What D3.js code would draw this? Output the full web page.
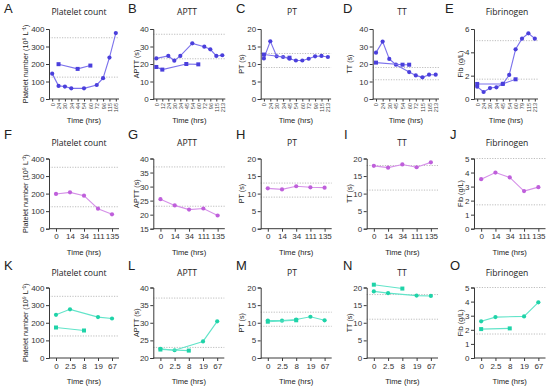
<!DOCTYPE html>
<html><head><meta charset="utf-8">
<script src="https://cdn.jsdelivr.net/npm/d3@7"></script>
<style>body{margin:0;background:#fff}svg{display:block}</style>
</head><body>
<svg id="c" width="550" height="388"></svg>
<script>
// ---------- DATA ----------
// Row 1 (patient 1) — category labels per panel
const timesA = ["0","24","30","34","44","54","60","72","96","115","165"];
const timesB = ["0","12","24","30","34","45","54","60","72","96","115","213"];
const timesC = ["0","24","30","34","45","54","60","72","96","115","213"];
const timesD = ["0","24","30","45","54","60","72","115","165","213"];
const timesE = ["0","24","30","34","45","54","60","79","115","213"];

const plateletA1 = [145,75,71,61,null,61,null,80,119,237,377];
const plateletA2 = [null,199,null,null,172,null,191,null,null,null,null];
const apttB1 = [23.2,null,24.6,21.9,24.6,null,31.8,null,29.9,28.4,24.6,25.0];
const apttB2 = [18.3,16.8,null,null,null,20.0,null,19.8,null,null,null,null];
const ptC1 = [11.6,16.5,12.2,12.0,11.5,11.0,11.0,11.5,12.2,12.3,12.0];
const ptC2 = [12.7,null,null,null,11.8,null,null,null,null,null,null];
const ttD1 = [26.5,32.8,22.9,19.6,null,15.4,13.5,12.4,13.9,13.9];
const ttD2 = [20.8,null,null,null,19.6,19.6,null,null,null,null];
const fibE1 = [1.06,0.6,0.94,1.0,1.29,2.06,4.26,5.17,5.63,5.17];
const fibE2 = [1.29,null,null,null,1.3,null,1.69,null,null,null];

// Row 2 (patient 2)
const times2 = ["0","14","34","111","135"];
const platelet2 = [198,207,188,114,82];
const aptt2 = [25.5,23.3,21.8,22.2,19.7];
const pt2 = [11.5,11.2,12.1,11.8,11.7];
const tt2 = [17.9,17.4,18.3,17.5,18.9];
const fib2 = [3.53,4.0,3.65,2.68,2.96];

// Row 3 (patient 3)
const times3 = ["0","2.5","8","19","67"];
const platelet3a = [245,276,null,232,224];
const platelet3b = [173,null,156,null,null];
const aptt3a = [22.6,22.2,null,24.7,30.4];
const aptt3b = [22.4,null,22.1,null,null];
const pt3a = [10.6,10.6,10.9,11.7,10.7];
const pt3b = [10.3,null,10.7,null,null];
const tt3a = [18.9,18.4,null,17.7,17.6];
const tt3b = [20.8,null,19.7,null,null];
const fib3a = [2.6,2.9,null,2.95,3.95];
const fib3b = [2.05,null,2.1,null,null];

// Reference ranges (dotted lines)
const refPlatelet = [125,350];
const refAPTT = [23,37];
const refPT = [9,13];
const refTT = [11,18];
const refFib = [1.7,5];

// Y tick values
const ticksPlatelet = [0,100,200,300,400];
const ticksAPTT1 = [0,10,20,30,40];
const ticksAPTT2 = [15,20,25,30,35,40];
const ticksAPTT3 = [20,25,30,35,40];
const ticksPT = [0,5,10,15,20];
const ticksTT1 = [0,10,20,30,40];
const ticksTT = [0,5,10,15,20];
const ticksFib1 = [0,2,4,6];
const ticksFib = [0,1,2,3,4,5];

const titles = ["Platelet count","APTT","PT","TT","Fibrinogen"];
const yTitles = ["Platelet number (10\u2079 L\u207B\u00B9)","APTT (s)","PT (s)","TT (s)","Fib (g/L)"];
const letters = ["A","B","C","D","E","F","G","H","I","J","K","L","M","N","O"];

// ---------- LAYOUT ----------
const rows = [
  {top:29, bot:99, letterY:13, titleY:15, rot:true, color:{line:"#7c72ec", mark:"#4a3fdc"}},
  {top:158.5, bot:228.7, letterY:139, titleY:146, rot:false, color:{line:"#d590e8", mark:"#bf5fdb"}},
  {top:287.5, bot:358, letterY:270, titleY:276, rot:false, color:{line:"#62e4c9", mark:"#1fd3a8"}}
];
const letterX = [[4,128,236,343,445],[4,128,236,344,450],[4,128,236,343,450]];
const titleX = [79,187,292,402,507];
const yTitleX = [25,136,241,349,460];

const panels = [
  // row 1
  {r:0,c:0,x0:49,w:70,cats:timesA,s:[plateletA1,plateletA2],dom:[0,400],ticks:ticksPlatelet,ref:refPlatelet},
  {r:0,c:1,x0:153.3,w:72,cats:timesB,s:[apttB1,apttB2],dom:[0,40],ticks:ticksAPTT1,ref:refAPTT},
  {r:0,c:2,x0:260.7,w:70.4,cats:timesC,s:[ptC1,ptC2],dom:[0,20],ticks:ticksPT,ref:refPT},
  {r:0,c:3,x0:372.7,w:66.3,cats:timesD,s:[ttD1,ttD2],dom:[0,40],ticks:ticksTT1,ref:refTT},
  {r:0,c:4,x0:474,w:64,cats:timesE,s:[fibE1,fibE2],dom:[0,6],ticks:ticksFib1,ref:refFib},
  // row 2
  {r:1,c:0,x0:49,w:70,cats:times2,s:[platelet2],dom:[0,400],ticks:ticksPlatelet,ref:refPlatelet},
  {r:1,c:1,x0:153.3,w:71.5,cats:times2,s:[aptt2],dom:[15,40],ticks:ticksAPTT2,ref:refAPTT},
  {r:1,c:2,x0:260.7,w:71,cats:times2,s:[pt2],dom:[0,20],ticks:ticksPT,ref:refPT},
  {r:1,c:3,x0:366.7,w:71.3,cats:times2,s:[tt2],dom:[0,20],ticks:ticksTT,ref:refTT},
  {r:1,c:4,x0:474,w:71.5,cats:times2,s:[fib2],dom:[0,5],ticks:ticksFib,ref:refFib},
  // row 3
  {r:2,c:0,x0:49,w:70,cats:times3,s:[platelet3a,platelet3b],dom:[0,400],ticks:ticksPlatelet,ref:refPlatelet},
  {r:2,c:1,x0:153.3,w:71,cats:times3,s:[aptt3a,aptt3b],dom:[20,40],ticks:ticksAPTT3,ref:refAPTT},
  {r:2,c:2,x0:260.7,w:71,cats:times3,s:[pt3a,pt3b],dom:[0,20],ticks:ticksPT,ref:refPT},
  {r:2,c:3,x0:366.7,w:71.3,cats:times3,s:[tt3a,tt3b],dom:[0,20],ticks:ticksTT,ref:refTT},
  {r:2,c:4,x0:474,w:71.5,cats:times3,s:[fib3a,fib3b],dom:[0,5],ticks:ticksFib,ref:refFib}
];

const svg = d3.select("#c");
const AX = "#3a3a3a";
const FONT = "Liberation Sans, Arial, sans-serif";

panels.forEach((p,i) => {
  const row = rows[p.r];
  const g = svg.append("g");
  const x = d3.scalePoint().domain(p.cats).range([p.x0, p.x0 + p.w]).padding(0.5);
  const y = d3.scaleLinear().domain(p.dom).range([row.bot, row.top]);

  // panel letter
  g.append("text").attr("x", letterX[p.r][p.c]).attr("y", row.letterY)
    .attr("font-family", FONT).attr("font-size", 13).attr("fill", "#222").text(letters[i]);
  // title
  g.append("text").attr("x", titleX[p.c]).attr("y", row.titleY).attr("text-anchor","middle")
    .attr("font-family", "Open Sans, Noto Sans, sans-serif").attr("font-size", 8.6).attr("fill", "#222")
    .text(titles[p.c]);

  // reference dotted lines
  p.ref.forEach(v => {
    g.append("line").attr("x1", p.x0).attr("x2", p.x0 + p.w)
      .attr("y1", y(v)).attr("y2", y(v))
      .attr("stroke", "#b5b5b5").attr("stroke-width", 0.9).attr("stroke-dasharray", "1.2,1.4");
  });

  // y axis
  const ya = d3.axisLeft(y).tickValues(p.ticks).tickSize(3).tickPadding(1.5).tickFormat(d3.format("~g"));
  const yg = g.append("g").attr("transform", `translate(${p.x0},0)`).call(ya);
  yg.select(".domain").attr("stroke", AX).attr("stroke-width", 1);
  yg.selectAll(".tick line").attr("stroke", AX).attr("stroke-width", 1);
  yg.selectAll(".tick text").attr("font-family", FONT).attr("font-size", 8).attr("fill", "#333");

  // x axis
  const xa = d3.axisBottom(x).tickSize(row.rot ? 2.5 : 3).tickPadding(2).tickSizeOuter(0);
  const xg = g.append("g").attr("transform", `translate(0,${row.bot})`).call(xa);
  xg.select(".domain").attr("d", `M${p.x0},0H${p.x0 + p.w}`).attr("stroke", AX).attr("stroke-width", 1);
  xg.selectAll(".tick line").attr("stroke", AX).attr("stroke-width", 1);
  if (row.rot) {
    xg.selectAll(".tick text").attr("font-family", FONT).attr("font-size", 5.6).attr("fill", "#444")
      .attr("text-anchor", "end").attr("dy", "0.35em")
      .attr("transform", "translate(0,4) rotate(-90)").attr("x", 0).attr("y", 0);
  } else {
    xg.selectAll(".tick text").attr("font-family", FONT).attr("font-size", 8).attr("fill", "#333");
  }

  // axis titles
  const xTitleY = row.rot ? row.bot + 24 : row.bot + 26;
  g.append("text").attr("x", p.x0 + p.w / 2).attr("y", xTitleY).attr("text-anchor", "middle")
    .attr("font-family", FONT).attr("font-size", 7.6).attr("fill", "#222").text("Time (hrs)");
  g.append("text").attr("transform", `translate(${yTitleX[p.c]},${(row.top + row.bot) / 2}) rotate(-90)`)
    .attr("text-anchor", "middle").attr("dy", "0.35em")
    .attr("font-family", FONT).attr("font-size", 7.2).attr("fill", "#222").text(yTitles[p.c]);

  // series
  const line = d3.line().x(d => x(d.k)).y(d => y(d.v));
  p.s.forEach((arr, si) => {
    const pts = arr.map((v, j) => ({k: p.cats[j], v})).filter(d => d.v != null);
    g.append("path").attr("d", line(pts)).attr("fill", "none")
      .attr("stroke", row.color.line).attr("stroke-width", 1.1);
    if (si === 0) {
      g.selectAll(null).data(pts).enter().append("circle")
        .attr("cx", d => x(d.k)).attr("cy", d => y(d.v)).attr("r", 2.1)
        .attr("fill", row.color.mark);
    } else {
      g.selectAll(null).data(pts).enter().append("rect")
        .attr("x", d => x(d.k) - 2).attr("y", d => y(d.v) - 2)
        .attr("width", 4).attr("height", 4).attr("fill", row.color.mark);
    }
  });
});
</script>
</body></html>
